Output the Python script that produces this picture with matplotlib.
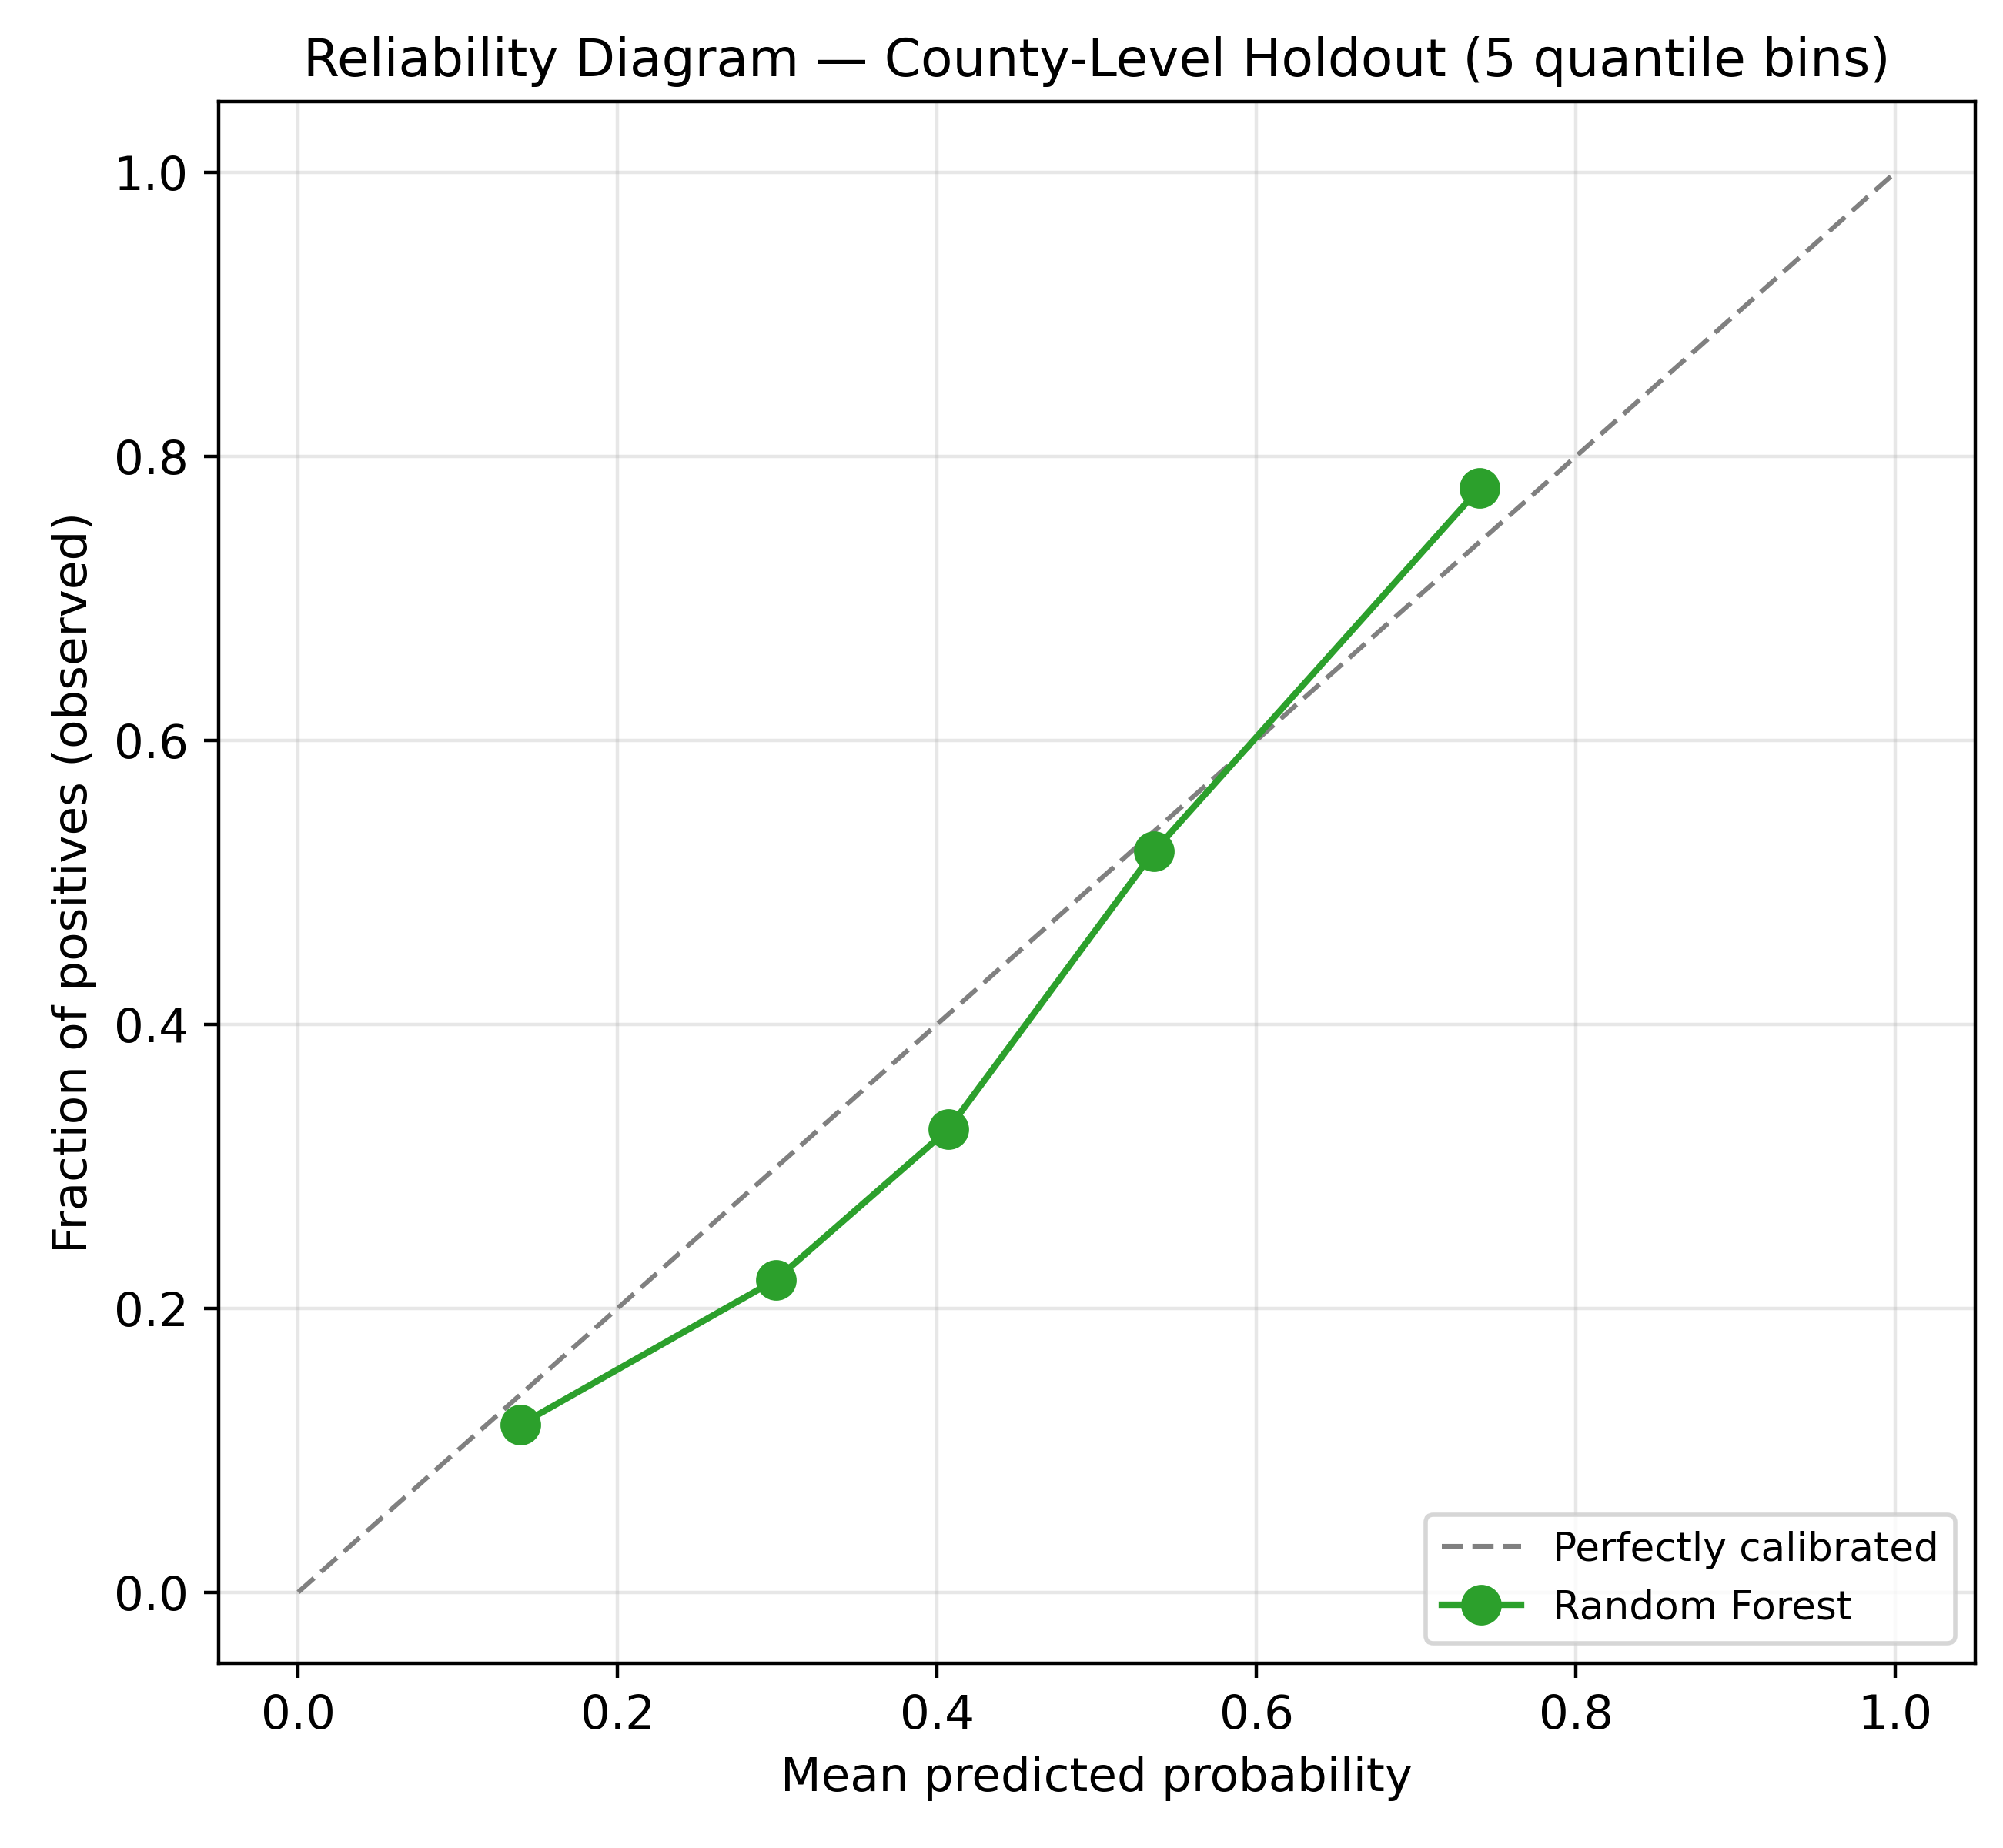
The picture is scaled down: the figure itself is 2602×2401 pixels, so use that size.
import matplotlib
matplotlib.use("Agg")
import matplotlib.pyplot as plt

# binned calibration points
mean_pred = [0.139, 0.299, 0.407, 0.536, 0.740]
frac_pos = [0.118, 0.220, 0.326, 0.522, 0.778]
diag = [0.0, 1.0]

fig, ax = plt.subplots(figsize=(2602 / 400, 2401 / 400), dpi=400)
fig.subplots_adjust(left=0.109, right=0.986, top=0.945, bottom=0.100)

ax.plot(diag, diag, linestyle="--", dashes=(4.5, 2), color="gray", linewidth=1.1,
        label="Perfectly calibrated")
ax.plot(mean_pred, frac_pos, marker="o", color="#2ca02c", linewidth=1.5, markersize=8.5,
        label="Random Forest")

ax.set_xlabel("Mean predicted probability", fontsize=11)
ax.set_ylabel("Fraction of positives (observed)", fontsize=11)
ax.set_title("Reliability Diagram — County-Level Holdout (5 quantile bins)", fontsize=12.2)
ax.tick_params(labelsize=11)
ax.legend(loc="lower right", fontsize=9.3)
ax.grid(True, alpha=0.3)

fig.savefig("out.png", dpi=400)
